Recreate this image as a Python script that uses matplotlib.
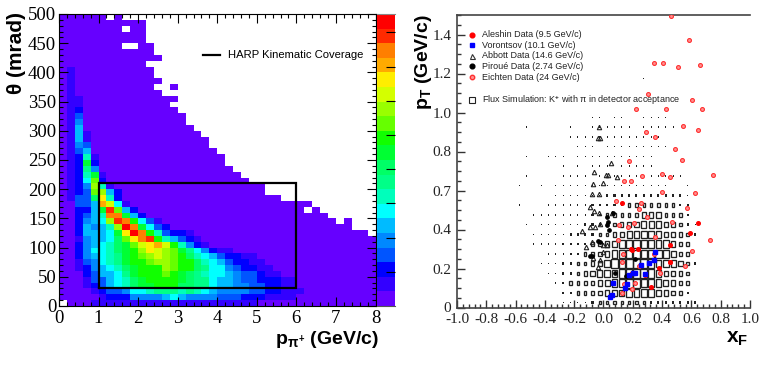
import numpy as np
import matplotlib
matplotlib.use('Agg')
import matplotlib.pyplot as plt
from matplotlib.colors import ListedColormap

plt.rcParams['font.family'] = ['Liberation Serif', 'DejaVu Sans']
plt.rcParams['mathtext.fontset'] = 'custom'
plt.rcParams['mathtext.rm'] = 'Liberation Sans:bold'
plt.rcParams['mathtext.it'] = 'Liberation Sans:bold'
plt.rcParams['mathtext.bf'] = 'Liberation Sans:bold'

# colour levels of the 2D histogram, bottom of palette first
palette = ['#6600ff', '#3300ff', '#0000ff', '#0055ff', '#0088ff', '#00bbff', '#00ffff',
           '#00ffbb', '#00ff88', '#00ff66', '#00ff33', '#11ff00', '#66ff00', '#99ff00',
           '#d4ff00', '#ffee00', '#ffaa00', '#ff7f00', '#ff2a00', '#ff0000']
level_chars = '0123456789abcdefghij'

# one string per theta bin (top row first), one char per momentum bin, rest of row is level 0
heat_rows = [
    '', '', '', '', '', '', '', '', '',
    '01', '01', '01', '01', '01',
    '011', '011', '012', '013', '014', '015',
    '0151', '0151', '0143', '0135',
    '01271', '012a2', '01284', '0127a1', '0126c2',
    '0124d71',
    '0123cd52',
    '01339f72',
    '00335ge61',
    '00225aic52',
    '002357hha52',
    '002456dihb631',
    '0025457djha632',
    '0025556afjhb73221',
    '00145569cfhib75321',
    '00245679acefgeb7421',
    '00246679abdfedca864211',
    '00245678abcdedcb976532211',
    '00134678abbcddcbb976532211',
    '00124567' + '9abbbdcbb986' + '6432211',
    '000' + '235568a' + 'bbbcba98766' + '5433211',
    '000' + '1335679' + 'abbbba98865' + '543322211',
    '000' + '12356' + '79aabbb998865' + '544332211',
    '0000' + '12334667888787654' + '4443322111',
    '00000' + '1222444456544443332221111',
    '0000' + '111111111111111111111',
]
# last filled momentum bin in each theta row
row_end = [7, 10, 10, 10, 10, 11, 11, 12, 10, 11, 11, 12, 14, 12, 14, 13, 14, 15, 15, 16,
           17, 18, 18, 19, 20, 20, 21, 22, 23, 25, 25, 27, 31, 32, 33, 36, 36, 38, 39, 39,
           39, 39, 39, 39, 39, 39, 39, 39, 39, 39]
# empty bins inside the filled part (row, column)
holes = [(0, 6), (2, 8), (5, 8), (5, 9), (12, 12), (12, 13), (33, 31), (35, 35), (49, 0)]

p_edges = np.linspace(0, 8, 41)
theta_edges = np.linspace(500, 0, 51)
box_p = [1, 6]
box_theta = [30, 211]

# flux simulation boxes: size level per cell, first column of each row, pT rows from bottom
flux_first = [14, 14, 13, 12, 11, 12, 10, 10, 9, 10, 8, 13, 8, 9, 14, 9, 16, 15, 9, 18,
              0, 0, 0, 25]
flux_rows = [
    '1111233333332222222',
    '223344566777765432',
    '1233445677998876543',
    '11223456778899875543',
    '1112233457889998776532',
    '11122334578888887643',
    '1111222234567888877543',
    '11111222233456777655432',
    '1.11111122233445666' + '54321',
    '11111111' + '22' + '3333' + '4555' + '3332',
    '1...' + '111111' + '22' + '222' + '3333333' + '22',
    '1111111' + '22222222222' + '1',
    '1..1.' + '1111111111111111' + '..1',
    '1....1111.111111111111',
    '1.1.111.11111',
    '1..111.11111111111',
    '111.111111111',
    '1111111111111',
    '1.....1..111111.11111',
    '11.11..1111',
    '', '', '',
    '1',
]
# share of the cell taken by a box of each size level
flux_fraction = [0, 0.14, 0.28, 0.34, 0.46, 0.58, 0.68, 0.78, 0.86, 0.94]

aleshin_x = [.126, .647, .593, .454, .188, .195, .238, .454, .377, .286, .324, .192]
aleshin_y = [.534, .432, .384, .319, .302, .293, .300, .235, .201, .167, .103, .179]
vorontsov_x = [.352, .347, .308, .258, .217, .199, .176, .286, .065, .160, .144, .044, .058]
vorontsov_y = [.286, .245, .228, .216, .179, .175, .165, .172, .124, .119, .098, .056, .062]
abbott_x = [-.031, -.040, -.024, .053, -.063, -.072, 0, .033, .017, .094, -.076, -.031,
            -.092, -.065, -.031, .058, -.144, -.092, -.058, -.024, -.122, -.081, 0, .026,
            0, -.069, -.024, -.035]
abbott_y = [.924, .868, .868, .741, .697, .632, .638, .679, .679, .667, .582, .582,
            .517, .497, .483, .486, .392, .411, .411, .426, .312, .338, .321, .321,
            .286, .252, .244, .209]
piroue_x = [.022, .033, .022, .040, -.035, -.024, -.092, -.081, .215, .078, .153, .063]
piroue_y = [.466, .440, .423, .397, .341, .338, .264, .264, .247, .175, .161, .486]
eichten_x = [.458, .584, .342, .406, .511, .659, .306, .606, .222, .424, .675, .543, .647,
             .292, .352, .486, .538, .176, .261, .140, .190, .399, .452, .750, .402, .622,
             .083, .258, .240, .299, .568, .468, .210, .167, .106, .354, .101, .729, .606,
             .135, .345, .128, .245, .556, .454, .386, .215, .140, .197, .124]
eichten_y = [1.497, 1.372, 1.256, 1.256, 1.232, 1.244, 1.093, 1.062, 1.018, 1.018, 1.018,
             .931, .909, .898, .874, .813, .758, .750, .674, .649, .649, .685, .671, .681,
             .594, .587, .546, .536, .507, .462, .510, .440, .435, .413, .423, .360, .348,
             .344, .291, .276, .276, .232, .211, .215, .235, .179, .124, .122, .097, .074]

legend_labels = ['Aleshin Data (9.5 GeV/c)', 'Vorontsov (10.1 GeV/c)', 'Abbott Data (14.6 GeV/c)',
                 'Piroué Data (2.74 GeV/c)', 'Eichten Data (24 GeV/c)']
flux_label = 'Flux Simulation: K$^{+}$ with π in detector acceptance'
xf_ticks = [-1.0, -0.8, -0.6, -0.4, -0.2, 0.0, 0.2, 0.4, 0.6, 0.8, 1.0]
xf_labels = ['-1.0', '-0.8', '-0.6', '-0.4', '-0.2', '0.0', '0.2', '0.4', '0.6', '0.8', '1.0']
pt_ticks = [0, 0.2, 0.4, 0.6, 0.8, 1.0, 1.2, 1.4]
pt_labels = ['0', '0.2', '0.4', '0.7', '0.8', '1.0', '1.2', '1.4']

W, H = 763.0, 367.0


def px_axes(fig, x0, x1, y_top, y_bot):
    return fig.add_axes([x0 / W, (H - y_bot) / H, (x1 - x0) / W, (y_bot - y_top) / H])


def heat_grid():
    grid = np.full((50, 40), np.nan)
    for r, row in enumerate(heat_rows):
        grid[r, :row_end[r] + 1] = 0
        for c, ch in enumerate(row):
            grid[r, c] = level_chars.index(ch)
    for r, c in holes:
        grid[r, c] = np.nan
    return np.ma.masked_invalid(grid)


def draw_heat(fig):
    ax = px_axes(fig, 59, 375.5, 14, 306)
    cmap = ListedColormap(palette)
    ax.pcolormesh(p_edges, theta_edges, heat_grid(), cmap=cmap, vmin=0, vmax=20, linewidth=0,
                  rasterized=True)
    ax.plot([box_p[0], box_p[1], box_p[1], box_p[0], box_p[0]],
            [box_theta[0], box_theta[0], box_theta[1], box_theta[1], box_theta[0]],
            color='black', lw=1.6, solid_joinstyle='miter')
    ax.set_xlim(0, 8)
    ax.set_ylim(0, 500)
    ax.set_xticks(range(0, 9))
    ax.set_xticks(np.arange(0, 8.01, 0.2), minor=True)
    ax.set_yticks(range(0, 501, 50))
    ax.set_yticks(range(0, 501, 10), minor=True)
    ax.tick_params(which='both', direction='in', top=True, right=True, color='black', width=0.8)
    ax.tick_params(which='major', length=6.5, labelsize=13.5, pad=2)
    ax.tick_params(which='minor', length=3.2)
    ax.tick_params(axis='x', pad=3)
    for s in ax.spines.values():
        s.set_linewidth(0.8)
    ax.plot([3.63, 4.07], [430, 430], color='black', lw=1.6)
    ax.text(4.27, 430, 'HARP Kinematic Coverage', family='Liberation Sans', fontsize=8.1,
            va='center', ha='left')
    fig.text(275 / W, 1 - 340 / H, 'p$_{\\pi^{+}}$ (GeV/c)', family='Liberation Sans',
             fontweight='bold', fontsize=14, va='center', ha='left')
    fig.text(17 / W, 1 - 53 / H, 'θ (mrad)', family='Liberation Sans', fontweight='bold',
             fontsize=15, rotation=90, va='center', ha='center')
    return ax


def draw_colorbar(fig):
    ax = px_axes(fig, 377, 394.5, 14, 306)
    edges = np.linspace(0, 8.54, 21)
    ax.pcolormesh([0, 1], edges, np.arange(20).reshape(-1, 1), cmap=ListedColormap(palette),
                  vmin=0, vmax=20, linewidth=0)
    ax.set_xlim(0, 1)
    ax.set_ylim(0, 8.54)
    ax.set_xticks([])
    ax.yaxis.tick_right()
    ax.set_yticks(range(1, 9))
    ax.tick_params(axis='y', direction='in', length=6.3, width=0.8, labelright=False, color='black')
    ax.spines['left'].set_visible(False)
    ax.spines['right'].set_visible(False)
    ax.spines['top'].set_color('#888888')
    ax.spines['bottom'].set_color('#555555')
    return ax


def draw_flux(ax):
    xs, ys, sizes = [], [], []
    for r, row in enumerate(flux_rows):
        for i, ch in enumerate(row):
            if ch == '.':
                continue
            xs.append(-0.975 + 0.05 * (flux_first[r] + i))
            ys.append(0.025 + 0.05 * r)
            sizes.append(int(ch))
    xs, ys, sizes = np.array(xs), np.array(ys), np.array(sizes)
    fr = np.array(flux_fraction)[sizes]
    big = sizes >= 3
    ax.bar(xs[big], 0.05 * fr[big], width=0.05 * fr[big], bottom=ys[big] - 0.025 * fr[big],
           fill=False, edgecolor='#222222', linewidth=0.95)
    small = ~big
    ax.bar(xs[small], 0.05 * fr[small], width=0.05 * fr[small],
           bottom=ys[small] - 0.025 * fr[small], color='#222222', linewidth=0)


def draw_scatter(fig):
    ax = px_axes(fig, 457, 750, 15, 307.5)
    draw_flux(ax)
    ax.plot(abbott_x, abbott_y, ls='none', marker='^', ms=3.2, mfc='none', mec='#222222', mew=0.8)
    ax.plot(piroue_x, piroue_y, ls='none', marker='o', ms=2.4, color='black')
    ax.plot(eichten_x, eichten_y, ls='none', marker='o', ms=2.8, mfc='#ff9090', mec='#ff3030',
            mew=0.8, zorder=3)
    ax.plot(aleshin_x, aleshin_y, ls='none', marker='o', ms=2.6, color='#ff0000', zorder=3)
    ax.plot(vorontsov_x, vorontsov_y, ls='none', marker='s', ms=2.6, color='#0000ff', zorder=3)

    ax.set_xlim(-1.0, 1.0)
    ax.set_ylim(0, 1.5)
    ax.set_xticks(xf_ticks)
    ax.set_xticklabels(xf_labels)
    ax.set_xticks(np.arange(-1.0, 1.001, 0.04), minor=True)
    ax.set_yticks(pt_ticks)
    ax.set_yticklabels(pt_labels)
    ax.set_yticks(np.arange(0, 1.501, 0.05), minor=True)
    ax.tick_params(which='both', direction='in', color='#333333', width=1.0)
    ax.tick_params(which='major', length=6, labelsize=11, pad=4, labelcolor='#222222')
    ax.tick_params(which='minor', length=3)
    ax.spines['right'].set_visible(False)
    for s in ['left', 'bottom', 'top']:
        ax.spines[s].set_linewidth(1.2)
        ax.spines[s].set_color('#444444')

    # hand-made legend in the corner
    key_y = [1.40, 1.346, 1.29, 1.236, 1.18]
    ax.plot(-0.898, key_y[0], marker='o', ms=3.4, color='#ff0000')
    ax.plot(-0.898, key_y[1], marker='s', ms=3.4, color='#0000ff')
    ax.plot(-0.898, key_y[2], marker='^', ms=3.6, mfc='white', mec='#333333', mew=0.8)
    ax.plot(-0.898, key_y[3], marker='o', ms=3.4, color='black')
    ax.plot(-0.898, key_y[4], marker='o', ms=3.2, mfc='#ff9090', mec='#ff3030', mew=1.0)
    ax.plot(-0.898, 1.064, marker='s', ms=3.8, mfc='white', mec='#222222', mew=0.8)
    for y, label in zip(key_y, legend_labels):
        ax.text(-0.83, y, label, family='Liberation Sans', fontsize=6.5, va='center',
                ha='left', color='#222222')
    ax.text(-0.83, 1.064, flux_label, family='Liberation Sans', fontsize=6.5, va='center',
            ha='left', color='#222222')
    fig.text(423 / W, 1 - 62 / H, 'p$_{\\mathrm{T}}$ (GeV/c)', family='Liberation Sans',
             fontweight='bold', fontsize=14, rotation=90, va='center', ha='center')
    fig.text(737 / W, 1 - 338 / H, 'x$_{\\mathrm{F}}$', family='Liberation Sans',
             fontweight='bold', fontsize=15, va='center', ha='center')
    return ax


def main():
    fig = plt.figure(figsize=(W / 100, H / 100), dpi=100)
    draw_heat(fig)
    draw_colorbar(fig)
    draw_scatter(fig)
    fig.savefig('out.png', dpi=100)


if __name__ == '__main__':
    main()
